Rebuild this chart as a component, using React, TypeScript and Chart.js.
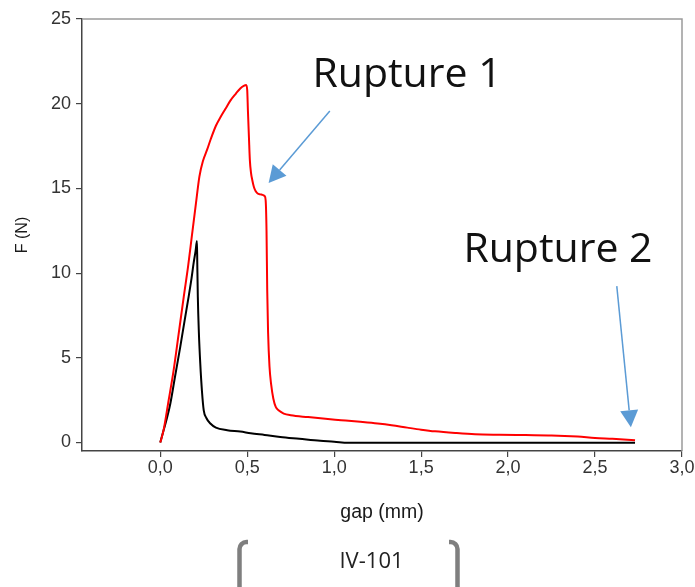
import React, { useEffect, useRef } from 'react';
import { Chart, registerables } from 'chart.js';

Chart.register(...registerables);

// ---- data ----
const redGap = [0, 0.019, 0.045, 0.077, 0.105, 0.135, 0.16, 0.183, 0.205, 0.225, 0.245, 0.27, 0.29, 0.32, 0.346, 0.375, 0.404, 0.435, 0.46, 0.48, 0.494, 0.5, 0.504, 0.51, 0.515, 0.522, 0.529, 0.538, 0.548, 0.56, 0.575, 0.588, 0.6, 0.606, 0.611, 0.615, 0.62, 0.628, 0.638, 0.65, 0.664, 0.68, 0.71, 0.75, 0.85, 0.95, 1.04, 1.15, 1.25, 1.33, 1.42, 1.5, 1.58, 1.7, 1.81, 1.95, 2.1, 2.25, 2.4, 2.5, 2.6, 2.73];
const redForce = [0, 0.73, 2.3, 4.27, 6.35, 8.6, 10.4, 12.3, 14.1, 15.7, 16.6, 17.3, 17.9, 18.7, 19.2, 19.7, 20.2, 20.6, 20.9, 21.05, 21.1, 20.8, 19.6, 18.0, 16.7, 15.9, 15.5, 15.1, 14.85, 14.7, 14.65, 14.62, 14.55, 14.3, 12.5, 9.0, 6.5, 4.5, 3.4, 2.6, 2.1, 1.9, 1.71, 1.61, 1.5, 1.4, 1.32, 1.22, 1.12, 1.02, 0.88, 0.76, 0.66, 0.56, 0.49, 0.46, 0.44, 0.42, 0.35, 0.27, 0.22, 0.14];

const blackGap = [0, 0.02, 0.04, 0.058, 0.085, 0.115, 0.14, 0.163, 0.18, 0.192, 0.203, 0.211, 0.213, 0.216, 0.222, 0.23, 0.24, 0.25, 0.265, 0.288, 0.32, 0.385, 0.46, 0.52, 0.6, 0.69, 0.8, 0.92, 1.0, 1.08, 1.2, 1.5, 1.8, 2.1, 2.4, 2.73];
const blackForce = [0, 0.75, 1.5, 2.3, 3.9, 5.65, 7.2, 8.6, 9.7, 10.6, 11.3, 11.9, 10.5, 8.6, 6.5, 4.67, 3.0, 1.9, 1.45, 1.12, 0.88, 0.73, 0.65, 0.55, 0.45, 0.33, 0.22, 0.1, 0.05, -0.02, -0.02, -0.02, -0.02, -0.02, -0.02, -0.02];

const xTickValues = [0, 0.5, 1, 1.5, 2, 2.5, 3];
const yTickValues = [0, 5, 10, 15, 20, 25];

const xTitle = 'gap (mm)';
const yTitle = 'F (N)';

// annotations: label text, label anchor (data units), arrow start & tip (data units)
const annoLabels = ['Rupture 1', 'Rupture 2'];
const annoLabelX = [0.875, 1.743];
const annoLabelY = [20.97, 10.67];
const arrowFromX = [0.975, 2.625];
const arrowFromY = [19.57, 9.23];
const arrowToX = [0.623, 2.706];
const arrowToY = [15.32, 0.9];

const caption = 'IV-101';

const fmt = (v: number) => v.toFixed(1).replace('.', ',');

const framePlugin = {
  id: 'frame',
  afterDraw(chart: any) {
    const { ctx, chartArea: a } = chart;
    ctx.save();
    ctx.strokeStyle = '#9a9a9a';
    ctx.lineWidth = 1.5;
    ctx.beginPath();
    ctx.moveTo(a.left, a.top);
    ctx.lineTo(a.right, a.top);
    ctx.lineTo(a.right, a.bottom);
    ctx.stroke();
    ctx.restore();
  },
};

const annotationPlugin = {
  id: 'annos',
  afterDraw(chart: any) {
    const { ctx } = chart;
    const xs = chart.scales.x;
    const ys = chart.scales.y;
    ctx.save();
    for (let i = 0; i < annoLabels.length; i++) {
      ctx.font = '41px "Open Sans", sans-serif';
      ctx.fillStyle = '#111';
      ctx.textAlign = 'left';
      ctx.textBaseline = 'alphabetic';
      ctx.fillText(annoLabels[i], xs.getPixelForValue(annoLabelX[i]), ys.getPixelForValue(annoLabelY[i]));

      const x1 = xs.getPixelForValue(arrowFromX[i]);
      const y1 = ys.getPixelForValue(arrowFromY[i]);
      const x2 = xs.getPixelForValue(arrowToX[i]);
      const y2 = ys.getPixelForValue(arrowToY[i]);
      const ang = Math.atan2(y2 - y1, x2 - x1);
      const headLen = 17;
      const headW = 9;
      const bx = x2 - headLen * Math.cos(ang);
      const by = y2 - headLen * Math.sin(ang);
      ctx.strokeStyle = '#5b9bd5';
      ctx.fillStyle = '#5b9bd5';
      ctx.lineWidth = 1.5;
      ctx.beginPath();
      ctx.moveTo(x1, y1);
      ctx.lineTo(bx, by);
      ctx.stroke();
      ctx.beginPath();
      ctx.moveTo(x2, y2);
      ctx.lineTo(bx + headW * Math.sin(ang), by - headW * Math.cos(ang));
      ctx.lineTo(bx - headW * Math.sin(ang), by + headW * Math.cos(ang));
      ctx.closePath();
      ctx.fill();
    }

    // caption with bracket decoration
    ctx.strokeStyle = '#7f7f7f';
    ctx.lineWidth = 4.5;
    ctx.lineCap = 'butt';
    ctx.beginPath();
    ctx.moveTo(248, 542);
    ctx.arcTo(239.5, 542, 239.5, 553, 7);
    ctx.lineTo(239.5, 595);
    ctx.stroke();
    ctx.beginPath();
    ctx.moveTo(449, 542);
    ctx.arcTo(457.5, 542, 457.5, 553, 7);
    ctx.lineTo(457.5, 595);
    ctx.stroke();
    ctx.font = '22px "Open Sans", sans-serif';
    ctx.fillStyle = '#222';
    ctx.textAlign = 'center';
    ctx.textBaseline = 'alphabetic';
    ctx.fillText(caption, 371.5, 568);
    ctx.restore();
  },
};

export default function App() {
  const ref = useRef<HTMLCanvasElement | null>(null);

  useEffect(() => {
    if (!ref.current) return;
    const setTicks = (vals: number[]) => (scale: any) => {
      scale.ticks = vals.map((v) => ({ value: v }));
    };
    const chart = new Chart(ref.current, {
      type: 'scatter',
      data: {
        datasets: [
          {
            label: 'red',
            data: redGap.map((g, i) => ({ x: g, y: redForce[i] })),
            showLine: true,
            borderColor: '#ff0000',
            borderWidth: 2,
            pointRadius: 0,
            cubicInterpolationMode: 'monotone',
          },
          {
            label: 'black',
            data: blackGap.map((g, i) => ({ x: g, y: blackForce[i] })),
            showLine: true,
            borderColor: '#000000',
            borderWidth: 2,
            pointRadius: 0,
            cubicInterpolationMode: 'monotone',
          },
        ],
      },
      options: {
        animation: false,
        responsive: true,
        maintainAspectRatio: false,
        layout: { padding: { top: 19, right: 13, left: 0, bottom: 0 } },
        plugins: { legend: { display: false }, tooltip: { enabled: false } },
        scales: {
          x: {
            type: 'linear',
            min: -0.45,
            max: 3.0,
            afterBuildTicks: setTicks(xTickValues),
            afterFit: (s: any) => {
              s.height = 136;
            },
            grid: { drawOnChartArea: false, drawTicks: true, tickLength: 6, color: '#444', lineWidth: 1.2 },
            border: { display: true, color: '#444', width: 1.5 },
            ticks: {
              callback: (v: any) => fmt(Number(v)),
              font: { family: '"Liberation Sans", Arial, sans-serif', size: 18 },
              color: '#333',
              padding: 0,
              maxRotation: 0,
              autoSkip: false,
            },
            title: {
              display: true,
              text: xTitle,
              font: { family: '"Liberation Sans", Arial, sans-serif', size: 19.5 },
              color: '#1a1a1a',
              padding: { top: 0, bottom: 62.3 },
            },
          },
          y: {
            type: 'linear',
            min: -0.5,
            max: 25,
            afterBuildTicks: setTicks(yTickValues),
            afterFit: (s: any) => {
              s.width = 82;
            },
            grid: { drawOnChartArea: false, drawTicks: true, tickLength: 6, color: '#444', lineWidth: 1.2 },
            border: { display: true, color: '#444', width: 1.5 },
            ticks: {
              callback: (v: any) => String(v),
              font: { family: '"Liberation Sans", Arial, sans-serif', size: 18 },
              color: '#333',
              padding: 5,
              autoSkip: false,
            },
            title: {
              display: true,
              text: yTitle,
              font: { family: '"Liberation Sans", Arial, sans-serif', size: 16 },
              color: '#1a1a1a',
              padding: { top: 12.5, bottom: 0 },
            },
          },
        },
      },
      plugins: [framePlugin, annotationPlugin],
    } as any);
    return () => chart.destroy();
  }, []);

  return (
    <div style={{ position: 'absolute', left: 0, top: 0, width: 695, height: 587, background: '#fff' }}>
      <canvas ref={ref} />
    </div>
  );
}
